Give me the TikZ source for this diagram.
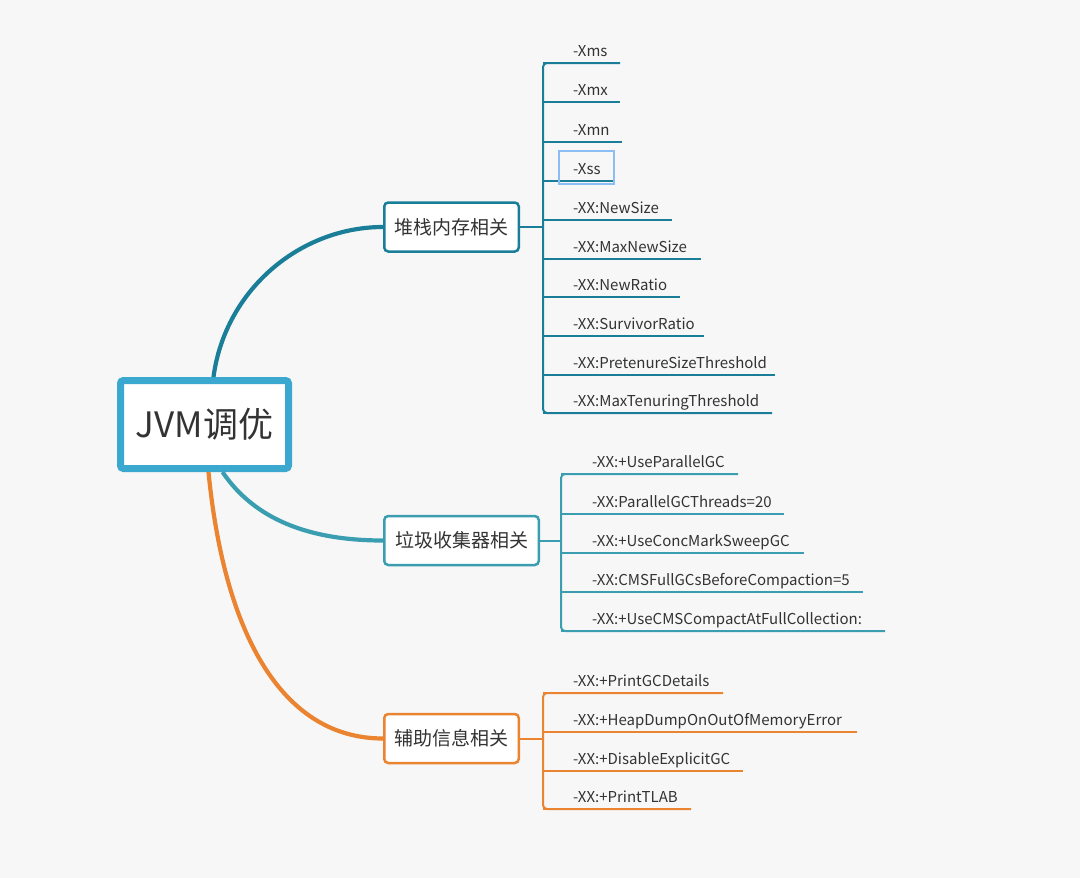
\documentclass[tikz,border=0pt]{standalone}
\usepackage{fontspec}
\setmainfont{Noto Sans CJK SC}
\definecolor{bgc}{HTML}{F7F7F7}
\definecolor{topc}{HTML}{1A7E99}
\definecolor{midc}{HTML}{3A9EB0}
\definecolor{orac}{HTML}{EA8431}
\definecolor{cenc}{HTML}{3AA8CF}
\definecolor{selc}{HTML}{8DBDF5}
\definecolor{txtc}{HTML}{333333}
\begin{document}
\begin{tikzpicture}[x=1pt,y=-1pt,
  centerbox/.style={draw=cenc,line width=7pt,rounded corners=3pt,fill=white,minimum width=168pt,minimum height=88pt,inner sep=0pt,text=txtc,font=\fontsize{35}{40}\selectfont},
  branchbox/.style={line width=2.5pt,rounded corners=4pt,fill=white,minimum height=49pt,inner sep=0pt,text=txtc,font=\fontsize{19}{21}\selectfont},
  leaf/.style={anchor=base west,inner sep=0pt,text=txtc,font=\fontsize{15}{17}\selectfont},
  leafline/.style={line width=2pt},
  trunk/.style={line width=2pt,rounded corners=4pt},
  mainline/.style={line width=4.2pt}]
\fill[bgc] (0,0) rectangle (1080,878);
\useasboundingbox (0,0) rectangle (1080,878);

\node[centerbox] (c) at (204.5,424.5) {JVM调优};
\node[branchbox,draw=topc,minimum width=134.5pt] (b1) at (451.5,227) {堆栈内存相关};
\node[branchbox,draw=midc,minimum width=154.5pt] (b2) at (461.5,540.5) {垃圾收集器相关};
\node[branchbox,draw=orac,minimum width=134.5pt] (b3) at (451.5,738.5) {辅助信息相关};

% main curves
\draw[mainline,topc] ([xshift=9pt]c.north) .. controls (225,290) and (300,227) .. (b1.west);
\draw[mainline,midc] ([xshift=18pt]c.south) .. controls (255,520) and (310,540.5) .. (b2.west);
\draw[mainline,orac] ([xshift=4pt]c.south) .. controls (225,640) and (285,738.5) .. (b3.west);

% branch 1
\coordinate (j1) at (543,227);
\draw[leafline,topc] (b1.east) -- (j1);
\draw[trunk,topc] (620,63) -- (543,63) -- (543,413) -- (772,413);
\foreach \y/\e/\t [count=\i] in {63/620/-Xms,102/620/-Xmx,142/622/-Xmn,181/613/-Xss,220/672/-XX:NewSize,259/701/-XX:MaxNewSize,297/680/-XX:NewRatio,336/704/-XX:SurvivorRatio,375/775/-XX:PretenureSizeThreshold,413/772/-XX:MaxTenuringThreshold}{
  \node[leaf] (l1-\i) at (573,\y-6.5) {\t};
  \draw[leafline,topc] (543,\y) -- (\e,\y);
}
\draw[selc,line width=1.3pt] (559,151) rectangle (614,184);

% branch 2
\coordinate (j2) at (561,540.5);
\draw[leafline,midc] (b2.east) -- (j2);
\draw[trunk,midc] (738,474) -- (561,474) -- (561,631) -- (885,631);
\foreach \y/\e/\t [count=\i] in {474/738/-XX:+UseParallelGC,514/784/-XX:ParallelGCThreads=20,553/804/-XX:+UseConcMarkSweepGC,592/863/-XX:CMSFullGCsBeforeCompaction=5,631/885/-XX:+UseCMSCompactAtFullCollection:}{
  \node[leaf] (l2-\i) at (592,\y-6.5) {\t};
  \draw[leafline,midc] (561,\y) -- (\e,\y);
}

% branch 3
\coordinate (j3) at (543,738.5);
\draw[leafline,orac] (b3.east) -- (j3);
\draw[trunk,orac] (723,693) -- (543,693) -- (543,809) -- (691,809);
\foreach \y/\e/\t [count=\i] in {693/723/-XX:+PrintGCDetails,732/857/-XX:+HeapDumpOnOutOfMemoryError,771/743/-XX:+DisableExplicitGC,809/691/-XX:+PrintTLAB}{
  \node[leaf] (l3-\i) at (573,\y-6.5) {\t};
  \draw[leafline,orac] (543,\y) -- (\e,\y);
}
\end{tikzpicture}
\end{document}
